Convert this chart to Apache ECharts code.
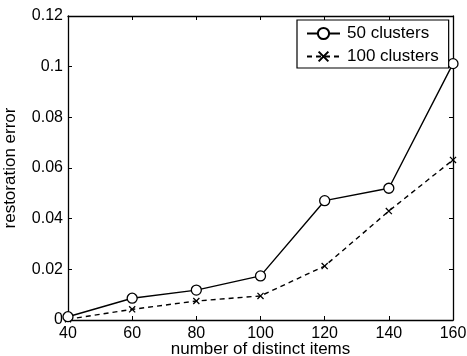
<!DOCTYPE html>
<html><head><meta charset="utf-8">
<script src="https://cdn.jsdelivr.net/npm/echarts@6/dist/echarts.min.js"></script>
<style>html,body{margin:0;padding:0;background:#fff}#c{width:467px;height:356px}</style>
</head><body><div id="c"></div>
<script>
const xValues = [40, 60, 80, 100, 120, 140, 160];
const clusters50 = [0.0013, 0.0086, 0.0118, 0.0174, 0.0471, 0.0520, 0.1012];
const clusters100 = [0.0003, 0.0042, 0.0075, 0.0095, 0.0213, 0.0430, 0.0632];
const seriesNames = ['50 clusters', '100 clusters'];
const xTitle = 'number of distinct items';
const yTitle = 'restoration error';

const font = 'Liberation Sans, Arial, Helvetica, sans-serif';
const chart = echarts.init(document.getElementById('c'), null, {renderer: 'canvas'});
const crossPath = 'path://M0,1.3L1.3,0L10,8.7L8.7,10Z M8.7,0L10,1.3L1.3,10L0,8.7Z';
const axisCommon = {
  axisLine: {show: true, onZero: false, lineStyle: {color: '#000', width: 1.3}},
  axisTick: {show: true, inside: true, length: 4, lineStyle: {color: '#000', width: 1}},
  splitLine: {show: false}
};
chart.setOption({
  animation: false,
  backgroundColor: '#fff',
  grid: {left: 68, top: 16, right: 14, bottom: 36, containLabel: false, outerBoundsMode: 'none'},
  legend: {
    data: seriesNames,
    orient: 'vertical',
    left: 297, top: 20,
    padding: [5, 10, 3, 9],
    itemWidth: 33, itemHeight: 14, itemGap: 6,
    backgroundColor: '#fff',
    borderColor: '#000', borderWidth: 1.2, borderRadius: 0,
    textStyle: {fontFamily: font, fontSize: 17, color: '#000', padding: [0, 0, 0, 2]}
  },
  xAxis: [
    Object.assign({
      type: 'value', min: 40, max: 160, interval: 20,
      name: xTitle, nameLocation: 'middle', nameGap: 21, nameMoveOverlap: false,
      nameTextStyle: {fontFamily: font, fontSize: 17, color: '#000', verticalAlign: 'top'},
      axisLabel: {fontFamily: font, fontSize: 16, color: '#000', margin: 6}
    }, axisCommon),
    Object.assign({
      type: 'value', min: 40, max: 160, interval: 20, position: 'top',
      axisLabel: {show: false}
    }, axisCommon)
  ],
  yAxis: [
    Object.assign({
      type: 'value', min: 0, max: 0.12, interval: 0.02,
      name: yTitle, nameLocation: 'middle', nameGap: 49, nameMoveOverlap: false,
      nameTextStyle: {fontFamily: font, fontSize: 17, color: '#000'},
      axisLabel: {fontFamily: font, fontSize: 16, color: '#000', margin: 5,
        formatter: v => String(Number(v.toFixed(2)))}
    }, axisCommon),
    Object.assign({
      type: 'value', min: 0, max: 0.12, interval: 0.02, position: 'right',
      axisLabel: {show: false}
    }, axisCommon)
  ],
  series: [
    {
      name: seriesNames[0], type: 'line',
      data: xValues.map((x, i) => [x, clusters50[i]]),
      symbol: 'circle', symbolSize: 10, showSymbol: true,
      lineStyle: {color: '#000', width: 1.4, type: 'solid'},
      itemStyle: {color: '#fff', borderColor: '#000', borderWidth: 1.3},
      z: 3
    },
    {
      name: seriesNames[1], type: 'line',
      data: xValues.map((x, i) => [x, clusters100[i]]),
      symbol: crossPath, symbolSize: 7,
      lineStyle: {color: '#000', width: 1.4, type: [5, 4]},
      itemStyle: {color: '#000', borderWidth: 0},
      z: 2
    }
  ]
});
</script></body></html>
